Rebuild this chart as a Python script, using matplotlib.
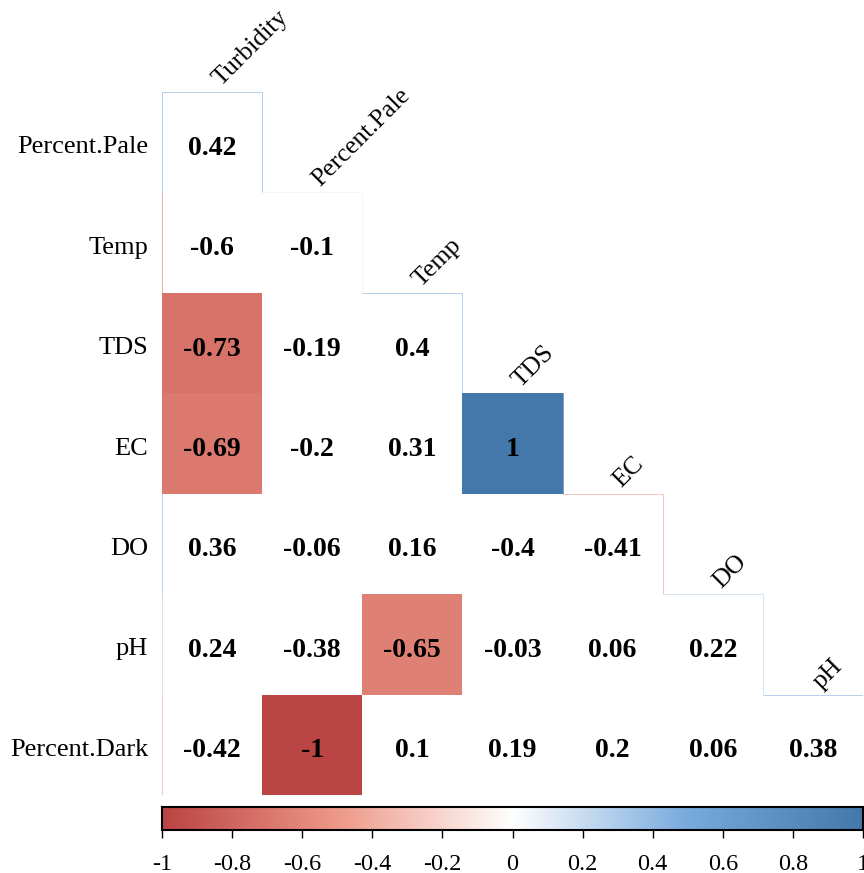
import numpy as np
import matplotlib
matplotlib.use("Agg")
import matplotlib.pyplot as plt
from matplotlib.colors import LinearSegmentedColormap, Normalize
from matplotlib.patches import Rectangle

# Variables and lower-triangle correlation coefficients
col_vars = ["Turbidity", "Percent.Pale", "Temp", "TDS", "EC", "DO", "pH"]
row_vars = ["Percent.Pale", "Temp", "TDS", "EC", "DO", "pH", "Percent.Dark"]

corr_rows = [
    [0.42],
    [-0.6, -0.1],
    [-0.73, -0.19, 0.4],
    [-0.69, -0.2, 0.31, 1],
    [0.36, -0.06, 0.16, -0.4, -0.41],
    [0.24, -0.38, -0.65, -0.03, 0.06, 0.22],
    [-0.42, -1, 0.1, 0.19, 0.2, 0.06, 0.38],
]

# Significant coefficients (filled cells); others are left blank
signif_rows = [
    [False],
    [False, False],
    [True, False, False],
    [True, False, False, True],
    [False, False, False, False, False],
    [False, False, True, False, False, False],
    [False, True, False, False, False, False, False],
]

cbar_ticks = [-1, -0.8, -0.6, -0.4, -0.2, 0, 0.2, 0.4, 0.6, 0.8, 1]
cbar_labels = ["-1", "-0.8", "-0.6", "-0.4", "-0.2", "0", "0.2", "0.4", "0.6", "0.8", "1"]

cmap = LinearSegmentedColormap.from_list(
    "corr", ["#BB4444", "#EE9988", "#FFFFFF", "#77AADD", "#4477AA"], N=200)
norm = Normalize(-1, 1)

plt.rcParams["font.family"] = ["Liberation Serif", "DejaVu Serif"]

W, H = 864, 873
fig = plt.figure(figsize=(W / 100, H / 100), dpi=100)

n = len(col_vars)
gx0, gx1 = 162, 863
gy0, gy1 = 92, 795
ax = fig.add_axes([gx0 / W, 1 - gy1 / H, (gx1 - gx0) / W, (gy1 - gy0) / H])
ax.set_xlim(0, n)
ax.set_ylim(n, 0)
ax.axis("off")

for i, row in enumerate(corr_rows):
    for j, v in enumerate(row):
        c = cmap(norm(v))
        if signif_rows[i][j]:
            ax.add_patch(Rectangle((j, i), 1, 1, facecolor=c, edgecolor="none", lw=0))
        # faint outline on the outer edges of the triangle
        edges = []
        if j == i:
            edges.append(([j, j + 1], [i, i]))          # top
            edges.append(([j + 1, j + 1], [i, i + 1]))  # right
        if j == 0:
            edges.append(([j, j], [i, i + 1]))          # left
        if i == n - 1:
            edges.append(([j, j + 1], [i + 1, i + 1]))  # bottom
        for xs, ys in edges:
            ax.plot(xs, ys, color=c, lw=0.6, alpha=0.8, solid_capstyle="butt")
        label = f"{v:g}"
        ax.text(j + 0.5, i + 0.56, label, ha="center", va="center",
                fontsize=20, fontweight="bold", color="black")

# Row labels on the left
for i, name in enumerate(row_vars):
    ax.text(-0.14, i + 0.55, name, ha="right", va="center", fontsize=19,
            color="black", clip_on=False)

# Column labels along the diagonal, rotated
for j, name in enumerate(col_vars):
    ax.text(j + 0.62, j - 0.02, name, ha="left", va="bottom", rotation=45,
            rotation_mode="anchor", fontsize=18.5, color="black", clip_on=False)

# Colour bar
cy0, cy1 = 807, 830
cax = fig.add_axes([gx0 / W, 1 - cy1 / H, (gx1 - gx0) / W, (cy1 - cy0) / H])
grad = np.linspace(-1, 1, 400).reshape(1, -1)
cax.imshow(grad, cmap=cmap, norm=norm, aspect="auto", extent=[-1, 1, 0, 1])
cax.set_xlim(-1, 1)
cax.set_yticks([])
cax.set_xticks(cbar_ticks)
cax.set_xticklabels(cbar_labels, fontsize=17.5)
cax.tick_params(axis="x", direction="out", length=6, width=1, pad=11)
for s in cax.spines.values():
    s.set_linewidth(1.5)
    s.set_color("black")

fig.savefig("out.png", dpi=100)
